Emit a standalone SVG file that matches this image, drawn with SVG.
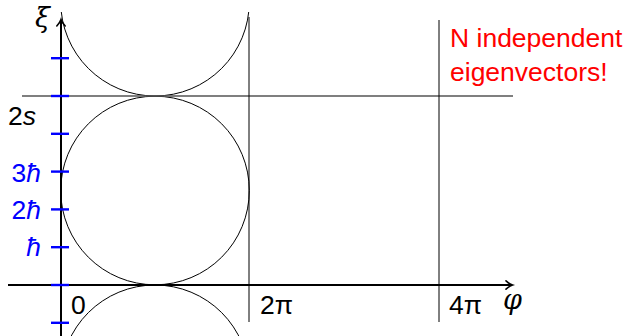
<svg xmlns="http://www.w3.org/2000/svg" width="627" height="336" viewBox="0 0 627 336">
  <style>
    .lbl { font-family: "Liberation Sans", Arial, sans-serif; font-size: 26.5px; fill: #000; }
    .blue { fill: #0000ff; }
    .red { font-family: "Liberation Sans", Arial, sans-serif; font-size: 26.5px; fill: #ff0000; }
    .math { font-family: "DejaVu Serif", "Liberation Serif", serif; font-style: italic; font-size: 27px; fill: #000; }
    .tick { stroke: #0000ff; stroke-width: 2.4; }
    .circ { fill: none; stroke: #000; stroke-width: 1; }
    .thin { stroke: #000; stroke-width: 1; }
    .axis { stroke: #000; stroke-width: 2; fill: none; }
  </style>
  <defs>
    <marker id="arr" markerUnits="userSpaceOnUse" orient="auto" markerWidth="16" markerHeight="16" refX="0" refY="0" viewBox="-8 -8 16 16" overflow="visible">
      <path d="M-6,-4.2 Q-2.5,-1 0.5,0 Q-2.5,1 -6,4.2" fill="none" stroke="#000" stroke-width="1.6" stroke-linecap="round"/>
    </marker>
    <clipPath id="clipTop">
      <rect x="0" y="12" width="627" height="90"/>
    </clipPath>
  </defs>
  <rect width="627" height="336" fill="#fff"/>

  <g id="curves">
    <circle class="circ" cx="155" cy="190.5" r="94.3"/>
    <circle class="circ" cx="155" cy="1.7" r="94.3" clip-path="url(#clipTop)"/>
    <circle class="circ" cx="155" cy="379.3" r="94.3"/>
  </g>

  <g id="connectors">
    <line x1="22" y1="96" x2="513" y2="96" stroke="#555" stroke-width="1.3"/>
    <line class="thin" x1="249" y1="17" x2="249" y2="322"/>
    <line class="thin" x1="439" y1="20" x2="439" y2="322"/>
    <line class="axis" x1="8" y1="285" x2="512" y2="285" marker-end="url(#arr)"/>
    <line class="axis" x1="61" y1="336" x2="61" y2="20" marker-end="url(#arr)"/>
  </g>

  <g id="ticks">
    <line class="tick" x1="51" y1="58.2" x2="69" y2="58.2"/>
    <line class="tick" x1="51" y1="96" x2="69" y2="96"/>
    <line class="tick" x1="51" y1="133.8" x2="69" y2="133.8"/>
    <line class="tick" x1="51" y1="171.6" x2="69" y2="171.6"/>
    <line class="tick" x1="51" y1="209.4" x2="69" y2="209.4"/>
    <line class="tick" x1="51" y1="247.2" x2="69" y2="247.2"/>
    <line class="tick" x1="51" y1="285" x2="69" y2="285"/>
    <line class="tick" x1="51" y1="322.8" x2="69" y2="322.8"/>
  </g>

  <g id="labels">
    <text class="math" x="35" y="27">ξ</text>
    <text class="math" x="503" y="309">φ</text>
    <text class="lbl" x="8" y="125">2<tspan font-style="italic">s</tspan></text>
    <text class="lbl blue" x="41" y="182" text-anchor="end">3<tspan font-style="italic">ħ</tspan></text>
    <text class="lbl blue" x="41" y="219" text-anchor="end">2<tspan font-style="italic">ħ</tspan></text>
    <text class="lbl blue" x="41" y="256" text-anchor="end"><tspan font-style="italic">ħ</tspan></text>
    <text class="lbl" x="71" y="314">0</text>
    <text class="lbl" x="260" y="314">2π</text>
    <text class="lbl" x="449" y="314">4π</text>
  </g>

  <g id="note">
    <text class="red" x="450" y="47">N independent</text>
    <text class="red" x="450" y="81">eigenvectors!</text>
  </g>
</svg>
